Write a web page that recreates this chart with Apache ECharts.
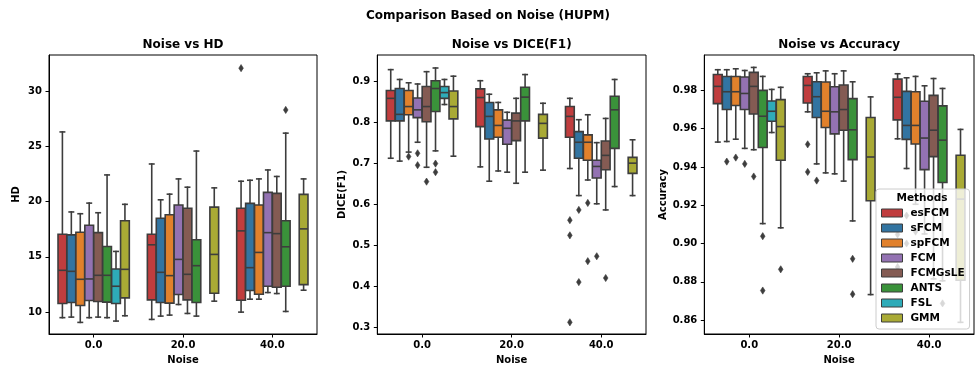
<!DOCTYPE html>
<html><head><meta charset="utf-8">
<script src="https://cdn.jsdelivr.net/npm/echarts@6/dist/echarts.min.js"></script>
<style>html,body{margin:0;padding:0;background:#fff}#c{width:976px;height:370px}</style>
</head><body><div id="c"></div>
<script>
const methods = ['esFCM','sFCM','spFCM','FCM','FCMGsLE','ANTS','FSL','GMM'];
const colors = ['#c03d3e','#3274a1','#e1812c','#9372b2','#845b53','#3a923a','#2eabb8','#a9aa35'];
const noiseLevels = ['0.0','20.0','40.0'];

// [lowWhisker, Q1, median, Q3, highWhisker] per method (null = no data)
const hd0 = [[9.5,10.78,13.78,17.05,26.3],[9.55,10.87,13.69,16.99,19.06],[9.07,10.6,12.97,17.23,18.9],[9.5,11.05,13.0,17.86,19.86],[9.55,10.96,13.33,17.19,18.99],[9.5,10.9,13.33,15.94,22.41],[9.19,10.78,12.34,13.9,15.49],[9.67,11.29,13.87,18.27,19.75]];
const hd20 = [[9.34,11.11,16.09,17.05,23.4],[9.64,10.87,13.6,18.49,20.16],[9.73,10.81,13.3,18.81,20.67],[10.69,11.59,14.77,19.69,22.05],[9.88,11.11,13.42,19.39,21.3],[9.64,10.87,14.2,16.54,24.57],null,[10.99,11.71,15.22,19.5,21.24]];
const hd40 = [[10.0,11.08,17.35,19.39,21.84],[11.17,11.95,14.02,19.84,21.93],[11.17,11.62,15.4,19.69,22.05],[11.77,12.34,17.19,20.83,22.86],[11.68,12.25,17.1,20.74,22.27],[10.06,12.34,15.91,18.27,26.19],null,[11.98,12.49,17.53,20.65,22.05]];
// [noiseIndex, methodIndex, value]
const hdOutliers = [[2,0,32.07],[2,5,28.29]];

const dice0 = [[0.713,0.804,0.859,0.878,0.929],[0.706,0.804,0.820,0.883,0.905],[0.728,0.819,0.839,0.878,0.897],[0.752,0.812,0.831,0.860,0.894],[0.691,0.802,0.839,0.888,0.924],[0.731,0.827,0.883,0.902,0.933],[0.844,0.859,0.873,0.888,0.905],[0.718,0.809,0.839,0.877,0.913]];
const dice20 = [[0.692,0.790,0.861,0.882,0.902],[0.657,0.760,0.815,0.849,0.869],[0.682,0.764,0.793,0.831,0.849],[0.679,0.747,0.786,0.806,0.825],[0.652,0.756,0.804,0.823,0.859],[0.679,0.804,0.862,0.886,0.917],null,[0.684,0.762,0.798,0.820,0.847]];
const dice40 = [[0.688,0.764,0.815,0.839,0.859],[0.622,0.713,0.752,0.778,0.807],[0.660,0.708,0.752,0.770,0.819],[0.602,0.665,0.693,0.708,0.751],[0.587,0.685,0.720,0.755,0.810],[0.644,0.737,0.831,0.864,0.905],null,[0.622,0.676,0.701,0.715,0.758]];
const diceOutliers = [[0,2,0.717],[0,3,0.725],[0,3,0.696],[0,4,0.656],[0,5,0.700],[0,5,0.679],
  [2,0,0.562],[2,0,0.525],[2,0,0.313],[2,1,0.587],[2,1,0.411],[2,2,0.604],[2,2,0.462],[2,3,0.474],[2,4,0.421]];

const acc0 = [[0.953,0.9731,0.9821,0.9883,0.9908],[0.9533,0.970,0.9793,0.9873,0.9908],[0.9545,0.9721,0.9793,0.9873,0.9913],[0.9497,0.970,0.9784,0.987,0.9904],[0.949,0.9677,0.9821,0.9894,0.992],[0.9104,0.9502,0.9665,0.980,0.9873],[0.958,0.9639,0.9691,0.9745,0.9805],[0.9082,0.9435,0.9611,0.9752,0.9816]];
const acc20 = [[0.9688,0.9734,0.9826,0.9873,0.9887],[0.9416,0.9658,0.9767,0.9845,0.9892],[0.9369,0.9606,0.9691,0.9844,0.9902],[0.9364,0.9573,0.9688,0.9819,0.9887],[0.9326,0.9592,0.970,0.9828,0.9902],[0.9118,0.9438,0.9594,0.9757,0.9845],null,[0.8733,0.9223,0.9452,0.9658,0.9766]];
const acc40 = [[0.9547,0.9646,0.9764,0.9859,0.9887],[0.9392,0.9544,0.9617,0.9795,0.9866],[0.9205,0.952,0.9617,0.9793,0.9873],[0.905,0.9386,0.9551,0.9743,0.9824],[0.8815,0.9454,0.9592,0.9774,0.9862],[0.8805,0.9319,0.954,0.9719,0.981],null,[0.8588,0.8808,0.9232,0.9461,0.9596]];
const accOutliers = [[0,1,0.9428],[0,2,0.9449],[0,3,0.9416],[0,4,0.935],[0,5,0.9038],[0,5,0.8754],[0,7,0.8865],
  [1,0,0.9518],[1,0,0.9374],[1,1,0.9329],[1,5,0.892],[1,5,0.8735],
  [2,0,0.9047],[2,0,0.8877],[2,1,0.9146],[2,1,0.900],[2,2,0.9062],[2,5,0.8687]];

const hdTicks = [10,15,20,25,30];
const diceTicks = [0.3,0.4,0.5,0.6,0.7,0.8,0.9];
const accTicks = [0.86,0.88,0.90,0.92,0.94,0.96,0.98];

const LINE = '#3d3d3d';
const FONT = 'DejaVu Sans';

const panels = [
  {title:'Noise vs HD', yName:'HD', boxes:[hd0,hd20,hd40], outliers:hdOutliers, ticks:hdTicks, min:8.02, max:33.26, left:49, width:268, nameGap:28, dec:0},
  {title:'Noise vs DICE(F1)', yName:'DICE(F1)', boxes:[dice0,dice20,dice40], outliers:diceOutliers, ticks:diceTicks, min:0.2845, max:0.9647, left:377.3, width:268.7, nameGap:30, dec:1},
  {title:'Noise vs Accuracy', yName:'Accuracy', boxes:[acc0,acc20,acc40], outliers:accOutliers, ticks:accTicks, min:0.8527, max:0.9985, left:704.3, width:269.7, nameGap:36, dec:2}
];

function boxRender(mi) {
  return function (params, api) {
    const cat = api.value(0);
    const bw = api.size([1, 0])[0];
    const cx = api.coord([cat, api.value(3)])[0] + (mi - 3.5) * 0.1 * bw;
    const w = 0.1 * bw * 0.98;
    const y = k => api.coord([cat, api.value(k)])[1];
    const lo = y(1), q1 = y(2), md = y(3), q3 = y(4), hi = y(5);
    const ls = {stroke: LINE, lineWidth: 1.6, lineCap: 'square'};
    const c = w * 0.25;
    return {type: 'group', children: [
      {type: 'line', shape: {x1: cx, y1: q1, x2: cx, y2: lo}, style: ls},
      {type: 'line', shape: {x1: cx, y1: q3, x2: cx, y2: hi}, style: ls},
      {type: 'line', shape: {x1: cx - c, y1: lo, x2: cx + c, y2: lo}, style: ls},
      {type: 'line', shape: {x1: cx - c, y1: hi, x2: cx + c, y2: hi}, style: ls},
      {type: 'rect', shape: {x: cx - w / 2, y: q3, width: w, height: q1 - q3}, style: {fill: colors[mi], stroke: LINE, lineWidth: 1.6}},
      {type: 'line', shape: {x1: cx - w / 2, y1: md, x2: cx + w / 2, y2: md}, style: {stroke: LINE, lineWidth: 1.6}}
    ]};
  };
}
function outlierRender(mi) {
  return function (params, api) {
    const cat = api.value(0);
    const bw = api.size([1, 0])[0];
    const p = api.coord([cat, api.value(1)]);
    const cx = p[0] + (mi - 3.5) * 0.1 * bw, cy = p[1];
    return {type: 'polygon', shape: {points: [[cx, cy - 3.6], [cx + 2.3, cy], [cx, cy + 3.6], [cx - 2.3, cy]]},
      style: {fill: LINE, stroke: LINE, lineWidth: 0.6}};
  };
}

const grids = [], xAxes = [], yAxes = [], series = [], graphics = [];
panels.forEach((pn, gi) => {
  grids.push({left: pn.left, width: pn.width, top: 55, bottom: 34, show: true, borderColor: '#000', borderWidth: 1, backgroundColor: 'transparent'});
  xAxes.push({type: 'category', gridIndex: gi, data: noiseLevels, boundaryGap: true,
    name: 'Noise', nameLocation: 'middle', nameGap: 21,
    nameTextStyle: {fontFamily: FONT, fontWeight: 'bold', fontSize: 10, color: '#000'},
    axisLine: {show: true, lineStyle: {color: '#000', width: 1}},
    axisTick: {show: true, alignWithLabel: true, length: 3.5, lineStyle: {color: '#000', width: 1}},
    axisLabel: {fontFamily: FONT, fontWeight: 'bold', fontSize: 10, color: '#000', margin: 6},
    splitLine: {show: false}});
  yAxes.push({type: 'value', gridIndex: gi, min: pn.min, max: pn.max,
    name: pn.yName, nameLocation: 'middle', nameGap: pn.nameGap, nameRotate: 90,
    nameTextStyle: {fontFamily: FONT, fontWeight: 'bold', fontSize: 10, color: '#000'},
    axisLine: {show: true, lineStyle: {color: '#000', width: 1}},
    axisTick: {show: true, length: 3.5, customValues: pn.ticks, lineStyle: {color: '#000', width: 1}},
    axisLabel: {fontFamily: FONT, fontWeight: 'bold', fontSize: 10, color: '#000', margin: 7,
      customValues: pn.ticks, formatter: v => Number(v).toFixed(pn.dec)},
    splitLine: {show: false}});
  methods.forEach((m, mi) => {
    const data = [];
    pn.boxes.forEach((arr, ni) => { if (arr[mi]) data.push([ni].concat(arr[mi])); });
    if (data.length) series.push({type: 'custom', name: m, xAxisIndex: gi, yAxisIndex: gi, z: 2,
      itemStyle: {color: colors[mi], borderColor: LINE, borderWidth: 1},
      encode: {x: 0, y: [1, 2, 3, 4, 5]}, renderItem: boxRender(mi), data: data, silent: true});
    const od = pn.outliers.filter(o => o[1] === mi).map(o => [o[0], o[2]]);
    if (od.length) series.push({type: 'custom', name: m, xAxisIndex: gi, yAxisIndex: gi, z: 2,
      itemStyle: {color: colors[mi], borderColor: LINE, borderWidth: 1},
      encode: {x: 0, y: 1}, renderItem: outlierRender(mi), data: od, silent: true});
  });
  graphics.push({type: 'text', x: pn.left + pn.width / 2, y: 45, z: 100,
    style: {text: pn.title, font: 'bold 12px "DejaVu Sans"', fill: '#000', textAlign: 'center', textVerticalAlign: 'middle'}});
});
graphics.push({type: 'text', x: 488, y: 16, z: 100,
  style: {text: 'Comparison Based on Noise (HUPM)', font: 'bold 12px "DejaVu Sans"', fill: '#000', textAlign: 'center', textVerticalAlign: 'middle'}});
graphics.push({type: 'text', x: 922, y: 198.5, z: 100,
  style: {text: 'Methods', font: 'bold 10.5px "DejaVu Sans"', fill: '#000', textAlign: 'center', textVerticalAlign: 'middle'}});

const chart = echarts.init(document.getElementById('c'), null, {renderer: 'canvas'});
chart.setOption({
  animation: false,
  backgroundColor: '#fff',
  grid: grids, xAxis: xAxes, yAxis: yAxes, series: series,
  legend: {data: methods, orient: 'vertical', left: 876, top: 189, icon: 'rect', itemWidth: 21, itemHeight: 8, itemGap: 3,
    padding: [18, 5, 5, 5], backgroundColor: 'rgba(255,255,255,0.8)', borderColor: '#cccccc', borderWidth: 1, borderRadius: 3,
    selectedMode: false, z: 50,
    itemStyle: {borderColor: LINE, borderWidth: 1},
    textStyle: {fontFamily: FONT, fontWeight: 'bold', fontSize: 10.5, color: '#000', lineHeight: 12, padding: [0, 0, 0, 3]}},
  graphic: graphics
});
</script></body></html>
